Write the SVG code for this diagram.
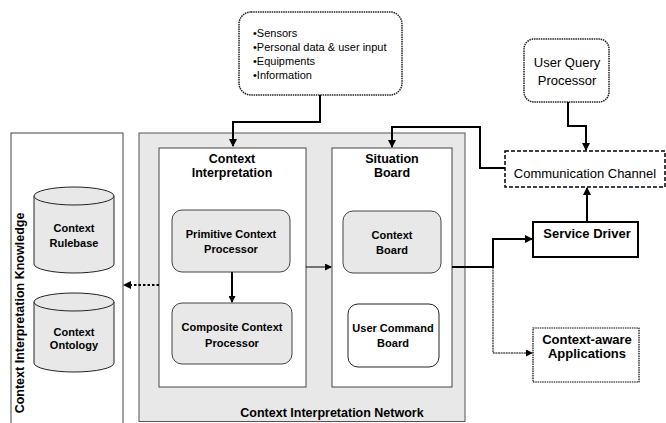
<svg xmlns="http://www.w3.org/2000/svg" width="666" height="423" viewBox="0 0 666 423">
<style>
text{font-family:"Liberation Sans",Arial,sans-serif;fill:#000}
.b{font-weight:bold}
.t12{font-size:12.5px}
.t11{font-size:11px}
.t13{font-size:13px}
.c{text-anchor:middle}
.ln{fill:none;stroke:#000;stroke-width:2}
.thin{fill:none;stroke:#000;stroke-width:1}
.grayproc{fill:#e8e8e8;stroke:#444;stroke-width:1}
</style>
<defs>
<marker id="ah" markerWidth="8" markerHeight="8" refX="7" refY="4" orient="auto" markerUnits="userSpaceOnUse">
<path d="M0,0 L8,4 L0,8 Z" fill="#000"/>
</marker>
<marker id="ahs" markerWidth="7" markerHeight="7" refX="6" refY="3.5" orient="auto" markerUnits="userSpaceOnUse">
<path d="M0,0 L7,3.5 L0,7 Z" fill="#000"/>
</marker>
</defs>

<g id="knowledge">
<rect x="11" y="133" width="112" height="300" fill="#fff" stroke="#444" stroke-width="1"/>
<text class="b t12 c" transform="translate(24,313) rotate(-90)">Context Interpretation Knowledge</text>
</g>

<g id="rulebase">
<path d="M34,196 L34,264 A40,9 0 0 0 114,264 L114,196" fill="#e8e8e8" stroke="#222" stroke-width="1"/>
<ellipse cx="74" cy="196" rx="40" ry="9" fill="#e8e8e8" stroke="#222" stroke-width="1"/>
<text class="b t11 c" x="74" y="232">Context</text>
<text class="b t11 c" x="74" y="247">Rulebase</text>
</g>

<g id="ontology">
<path d="M34,302 L34,363 A40,9 0 0 0 114,363 L114,302" fill="#e8e8e8" stroke="#222" stroke-width="1"/>
<ellipse cx="74" cy="302" rx="40" ry="9" fill="#e8e8e8" stroke="#222" stroke-width="1"/>
<text class="b t11 c" x="74" y="336">Context</text>
<text class="b t11 c" x="74" y="349">Ontology</text>
</g>

<g id="network">
<rect x="139" y="133" width="326" height="288.5" fill="#e8e8e8" stroke="#555" stroke-width="1"/>
<text class="b t12 c" x="332" y="417">Context Interpretation Network</text>
</g>

<g id="context-interpretation">
<rect x="159" y="148" width="147" height="239" fill="#fff" stroke="#444" stroke-width="1"/>
<text class="b t12 c" x="232" y="163">Context</text>
<text class="b t12 c" x="232" y="177">Interpretation</text>
</g>

<g id="primitive">
<rect x="172" y="210" width="118" height="62" rx="10" class="grayproc"/>
<text class="b t11 c" x="231" y="238">Primitive Context</text>
<text class="b t11 c" x="231" y="253">Processor</text>
</g>

<g id="composite">
<rect x="172" y="303" width="120" height="61" rx="10" class="grayproc"/>
<text class="b t11 c" x="232" y="331">Composite Context</text>
<text class="b t11 c" x="232" y="347">Processor</text>
</g>

<g id="situation-board">
<rect x="332" y="148" width="120" height="239" fill="#fff" stroke="#444" stroke-width="1"/>
<text class="b t12 c" x="392" y="163">Situation</text>
<text class="b t12 c" x="392" y="177">Board</text>
</g>

<g id="context-board">
<rect x="343" y="211" width="98" height="62" rx="10" class="grayproc"/>
<text class="b t11 c" x="392" y="239">Context</text>
<text class="b t11 c" x="392" y="254">Board</text>
</g>

<g id="user-command-board">
<rect x="348" y="304" width="91" height="63" rx="10" fill="#fff" stroke="#222" stroke-width="1"/>
<text class="b t11 c" x="393" y="332">User Command</text>
<text class="b t11 c" x="393" y="347">Board</text>
</g>

<g id="sources">
<rect x="239" y="12" width="163" height="83" rx="12" fill="#fff" stroke="#222" stroke-width="1.5" stroke-dasharray="1.5,0.8"/>
<text class="t11" x="253" y="37">•Sensors</text>
<text class="t11" x="253" y="51">•Personal data &amp; user input</text>
<text class="t11" x="253" y="65">•Equipments</text>
<text class="t11" x="253" y="79">•Information</text>
</g>

<g id="user-query-processor">
<rect x="524" y="39" width="85" height="63" rx="10" fill="#fff" stroke="#222" stroke-width="1.5" stroke-dasharray="1.5,0.8"/>
<text class="t13 c" x="567" y="67">User Query</text>
<text class="t13 c" x="567" y="85">Processor</text>
</g>

<g id="communication-channel">
<rect x="505" y="151" width="160" height="36" fill="#fff" stroke="#000" stroke-width="1.5" stroke-dasharray="4,2"/>
<text class="t13 c" x="585" y="178">Communication Channel</text>
</g>

<g id="service-driver">
<rect x="533" y="222" width="105" height="35" fill="#fff" stroke="#000" stroke-width="2"/>
<text class="b t13 c" x="587" y="238">Service Driver</text>
</g>

<g id="context-aware-applications">
<rect x="533" y="328" width="106" height="54" fill="#fff" stroke="#000" stroke-width="1.2" stroke-dasharray="1.5,0.8"/>
<text class="b t13 c" x="587" y="344">Context-aware</text>
<text class="b t13 c" x="587" y="358">Applications</text>
</g>

<g id="connectors">
<path class="ln" d="M320,95 L320,122 L233,122 L233,146" marker-end="url(#ah)"/>
<path class="ln" d="M568,102 L568,126 L586,126 L586,150" marker-end="url(#ah)"/>
<path class="ln" d="M505,168 L480,168 L480,127 L392,127 L392,147" marker-end="url(#ah)"/>
<path class="ln" d="M587,222 L587,188" marker-end="url(#ah)"/>
<path class="ln" d="M452,267 L493,267 L493,239 L532,239" marker-end="url(#ah)"/>
<path class="thin" d="M493,267 L493,353 L532,353" stroke-dasharray="2,0.6" marker-end="url(#ahs)"/>
<path class="thin" d="M306,267 L331,267" stroke-width="1.2" marker-end="url(#ahs)"/>
<path class="ln" d="M232,272 L232,302" stroke-width="1.5" marker-end="url(#ahs)"/>
<path class="ln" d="M159,285 L124,285" stroke-width="2.5" stroke-dasharray="2.5,2" marker-end="url(#ah)"/>
</g>
</svg>
